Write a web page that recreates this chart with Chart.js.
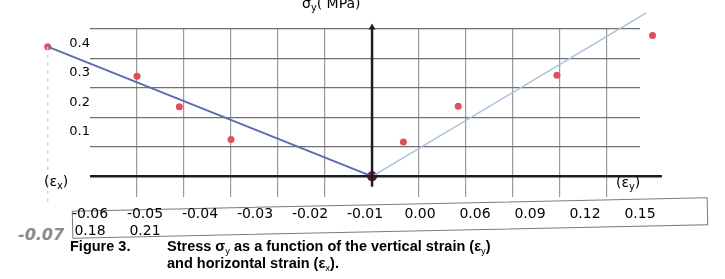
<!DOCTYPE html>
<html>

<head>
    <title>Stress vs strain</title>
    <style>
        body {
            margin: 0;
            background-color: white;
        }

        .wrap {
            position: relative;
            width: 725px;
            height: 279px;
            overflow: hidden;
        }

        canvas {
            position: absolute;
            left: 0;
            top: 0;
        }

        .txt {
            position: absolute;
            font-family: "DejaVu Sans", sans-serif;
            font-size: 14px;
            line-height: 16px;
            color: #000;
            white-space: nowrap;
        }

        .txt sub {
            font-size: 70%;
            vertical-align: -0.3em;
            line-height: 0;
        }

        .caption {
            position: absolute;
            font-family: "Liberation Sans", Arial, sans-serif;
            font-weight: bold;
            font-size: 14.5px;
            line-height: 17px;
            color: #000;
            white-space: nowrap;
        }

        .caption sub {
            font-size: 65%;
            font-weight: normal;
            vertical-align: -0.3em;
            line-height: 0;
        }

        .box {
            position: absolute;
            left: 72px;
            top: 204px;
            width: 634px;
            height: 26px;
            border: 1.5px solid #7a7a7a;
            transform: rotate(-1.2deg);
        }

        .scribble {
            position: absolute;
            left: 18px;
            top: 225px;
            font-family: "DejaVu Sans", sans-serif;
            font-weight: bold;
            font-style: italic;
            font-size: 16px;
            color: #8a8a8a;
        }
    </style>
</head>

<body>
    <div class="wrap">
        <div class="box"></div>
        <div class="scribble">-0.07</div>
        <canvas id="stressChart" width="725" height="279"></canvas>
        <div class="txt" style="left: 302px; top: -5px;">σ<sub>y</sub>( MPa)</div>
        <div class="txt" style="left: 44px; top: 173px;">(ε<sub>x</sub>)</div>
        <div class="txt" style="left: 616px; top: 174px;">(ε<sub>y</sub>)</div>
        <div class="caption" style="left: 70px; top: 238px;">Figure 3.</div>
        <div class="caption" style="left: 167px; top: 238px;">Stress σ<sub>y</sub> as a function of the vertical strain (ε<sub>y</sub>)<br>and horizontal strain (ε<sub>x</sub>).</div>
    </div>

    <script src="https://cdn.jsdelivr.net/npm/chart.js"></script>
    <script>
        // 눈금 글자
        const xTickLabels = ['-0.06', '-0.05', '-0.04', '-0.03', '-0.02', '-0.01', '0.00', '0.06', '0.09', '0.12', '0.15'];
        const xTickOverflow = ['0.18', '0.21'];
        const yTickLabels = ['0.1', '0.2', '0.3', '0.4'];
        const yTickValues = [0, 0.1, 0.2, 0.3, 0.4, 0.5];

        // 측정점 (변형률, 응력 MPa)
        const strainPoints = [-0.069, -0.05, -0.041, -0.03, 0.02, 0.055, 0.118, 0.179];
        const stressPoints = [0.44, 0.34, 0.236, 0.125, 0.117, 0.238, 0.343, 0.478];
        const originStrain = [0];
        const originStress = [0];

        // 추세선
        const leftFitStrain = [-0.069, 0];
        const leftFitStress = [0.44, 0];
        const rightFitStrain = [0, 0.175];
        const rightFitStress = [0, 0.555];

        // 축선과 왼쪽 점선
        const hAxisStrain = [-0.06, 0.185];
        const hAxisStress = [0, 0];
        const vAxisStrain = [0, 0];
        const vAxisStress = [-0.035, 0.5];
        const arrowStrain = [0];
        const arrowStress = [0.505];
        const guideStrain = [-0.069, -0.069];
        const guideStress = [0.44, -0.1];

        // 가로축은 왼쪽 한 칸 0.01, 오른쪽 한 칸 0.03
        function toGrid(strain) {
            return strain < 0 ? strain / 0.01 : strain / 0.03;
        }

        function pairs(xs, ys) {
            return xs.map((x, i) => ({ x: toGrid(x), y: ys[i] }));
        }

        const xLabelRows = xTickLabels.map((t, i) => i < xTickOverflow.length ? [t, xTickOverflow[i]] : t);

        // 그림 영역 밖의 점도 그리기
        const drawOutside = {
            id: 'drawOutside',
            beforeDatasetsDraw(chart) {
                chart.$savedArea = Object.assign({}, chart.chartArea);
                Object.assign(chart.chartArea, { left: 0, top: 0, right: chart.width, bottom: chart.height });
            },
            afterDatasetsDraw(chart) {
                Object.assign(chart.chartArea, chart.$savedArea);
            }
        };

        function lineSet(xs, ys, color, width, dash) {
            return {
                data: pairs(xs, ys),
                showLine: true,
                borderColor: color,
                borderWidth: width,
                borderDash: dash || [],
                pointRadius: 0,
                clip: false
            };
        }

        const ctx = document.getElementById('stressChart').getContext('2d');

        new Chart(ctx, {
            type: 'scatter',
            data: {
                datasets: [
                    lineSet(guideStrain, guideStress, '#cfcfcf', 1.5, [3, 5]),
                    lineSet(hAxisStrain, hAxisStress, '#1e1e1e', 2.5),
                    lineSet(vAxisStrain, vAxisStress, '#1e1e1e', 2.5),
                    {
                        data: pairs(arrowStrain, arrowStress),
                        pointStyle: 'triangle',
                        pointRadius: 4,
                        pointBackgroundColor: '#1e1e1e',
                        pointBorderWidth: 0,
                        clip: false
                    },
                    lineSet(leftFitStrain, leftFitStress, '#5d6cae', 2),
                    lineSet(rightFitStrain, rightFitStress, '#a9c3de', 1.5),
                    {
                        data: pairs(strainPoints, stressPoints),
                        pointRadius: 3.5,
                        pointBackgroundColor: '#e0505a',
                        pointBorderWidth: 0,
                        clip: false
                    }, {
                        data: pairs(originStrain, originStress),
                        pointRadius: 5,
                        pointBackgroundColor: '#7a1424',
                        pointBorderWidth: 0,
                        clip: false
                    }
                ]
            },
            options: {
                responsive: false,
                animation: false,
                layout: {
                    padding: { left: 50, right: 85, top: 29, bottom: 42 }
                },
                plugins: {
                    legend: { display: false },
                    tooltip: { enabled: false }
                },
                scales: {
                    x: {
                        type: 'linear',
                        position: 'bottom',
                        weight: 0,
                        min: -6,
                        max: 5.7,
                        afterBuildTicks: (scale) => {
                            scale.ticks = [-5, -4, -3, -2, -1, 1, 2, 3, 4, 5].map(v => ({ value: v }));
                        },
                        afterFit: (scale) => { scale.height = 0; },
                        ticks: { display: false },
                        border: { display: false },
                        grid: {
                            drawTicks: false,
                            color: '#9a9a9a',
                            lineWidth: 1.2
                        }
                    },
                    xl: {
                        type: 'category',
                        position: 'bottom',
                        weight: 1,
                        labels: xLabelRows,
                        offset: false,
                        afterFit: (scale) => { scale.height = 40; },
                        border: { display: false },
                        grid: { display: false, drawTicks: false },
                        ticks: {
                            autoSkip: false,
                            maxRotation: 0,
                            padding: 9,
                            color: '#000',
                            font: { family: 'DejaVu Sans', size: 14, lineHeight: 1.2 }
                        }
                    },
                    y: {
                        type: 'linear',
                        min: -0.07,
                        max: 0.5,
                        afterBuildTicks: (scale) => {
                            scale.ticks = yTickValues.map(v => ({ value: v }));
                        },
                        afterFit: (scale) => { scale.width = 40; },
                        border: { display: false },
                        grid: {
                            drawTicks: false,
                            color: (c) => c.tick && c.tick.value === 0 ? 'rgba(0,0,0,0)' : '#707070',
                            lineWidth: 1.3
                        },
                        ticks: {
                            padding: 0,
                            labelOffset: -15,
                            color: '#000',
                            font: { family: 'DejaVu Sans', size: 13 },
                            callback: (v) => {
                                const i = Math.round(v * 10) - 1;
                                return i >= 0 && i < yTickLabels.length ? yTickLabels[i] : '';
                            }
                        }
                    }
                }
            },
            plugins: [drawOutside]
        });
    </script>
</body>

</html>
